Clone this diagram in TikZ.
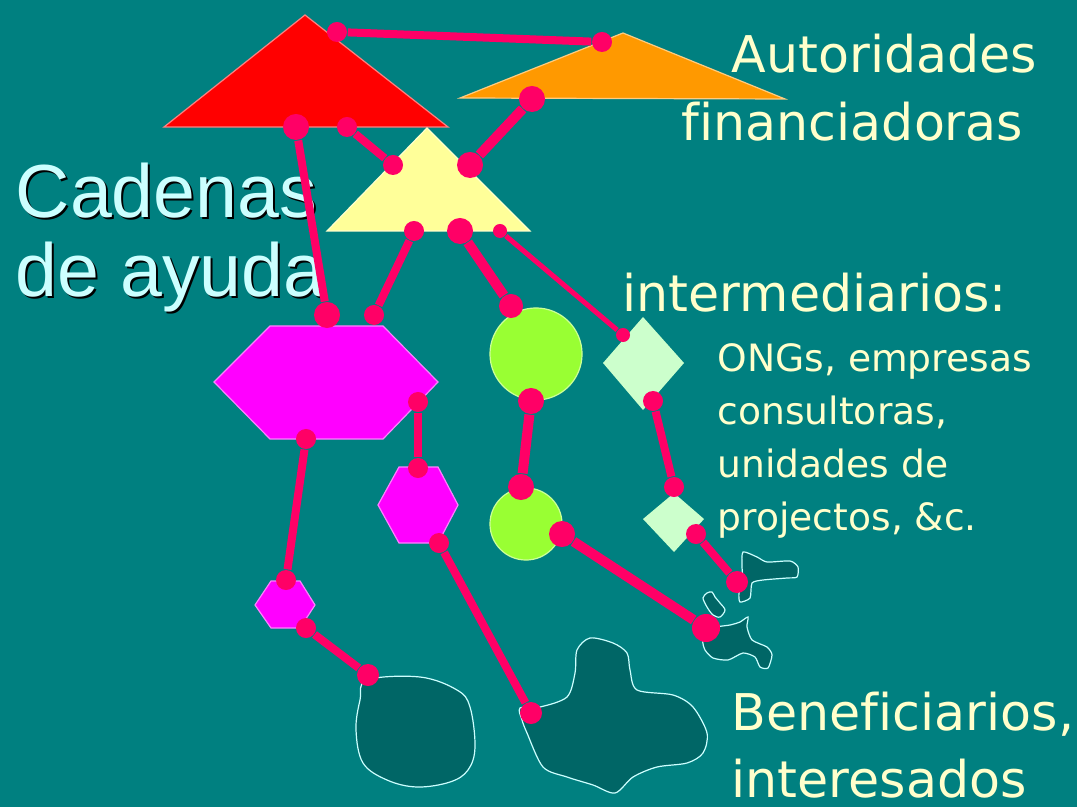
\documentclass[tikz,border=0pt]{standalone}
\usepackage{fontspec}
\usepackage{xcolor}
\newfontfamily\labfont[Ligatures=NoCommon]{DejaVu Sans}
\newfontfamily\cadfont{Liberation Sans}
\definecolor{colorBack}{RGB}{0,128,128}
\definecolor{colorLink}{RGB}{255,0,102}
\definecolor{colorRed}{RGB}{255,0,0}
\definecolor{colorOrange}{RGB}{255,153,0}
\definecolor{colorYellow}{RGB}{255,255,153}
\definecolor{colorMagenta}{RGB}{255,0,255}
\definecolor{colorGreen}{RGB}{153,255,51}
\definecolor{colorMint}{RGB}{204,255,204}
\definecolor{colorIsle}{RGB}{0,102,102}
\definecolor{colorText}{RGB}{255,255,204}
\definecolor{colorTitle}{RGB}{204,255,255}
\tikzset{
  link/.style={draw=colorLink, line width=0.08cm},
  thick link/.style={draw=colorLink, line width=0.1cm},
  thin link/.style={draw=colorLink, line width=0.05cm},
  dot/.style={circle, fill=colorLink, inner sep=0pt, minimum size=#1},
  dot/.default=0.2cm,
  shape edge/.style={draw=#1!50!white, line width=0.012cm},
  isle/.style={fill=colorIsle, draw=colorTitle, line width=0.012cm},
  big label/.style={text=colorText, inner sep=0pt, anchor=base west, align=left,
    font=\labfont\fontsize{14.4}{18.8}\selectfont},
  small label/.style={text=colorText, inner sep=0pt, anchor=base west, align=left,
    font=\labfont\fontsize{10.7}{15}\selectfont},
  title label/.style={inner sep=0pt, anchor=base west, align=left,
    font=\cadfont\fontsize{21.4}{22.5}\selectfont},
}

\begin{document}
\begin{tikzpicture}[x=0.01cm, y=-0.01cm]
\fill[colorBack] (0,0) rectangle (1077,807);
\useasboundingbox (0,0) rectangle (1077,807);
\filldraw[fill=colorRed, shape edge=colorRed] (305,15) -- (448,127) -- (164,127) -- cycle;
\filldraw[fill=colorOrange, shape edge=colorOrange] (623,33) -- (785,99) -- (460,98) -- cycle;
\filldraw[fill=colorYellow, shape edge=colorYellow] (427,128) -- (530,231) -- (327,231) -- cycle;
\filldraw[fill=colorMagenta, shape edge=colorMagenta] (214,382) -- (270,326) -- (383,326) -- (438,382) -- (383,439) -- (270,439) -- cycle;
\filldraw[fill=colorMagenta, shape edge=colorMagenta] (378,505) -- (399,467) -- (438,467) -- (458,505) -- (438,543) -- (399,543) -- cycle;
\filldraw[fill=colorMagenta, shape edge=colorMagenta] (255,605) -- (271,581) -- (300,581) -- (315,605) -- (300,628) -- (271,628) -- cycle;
\filldraw[fill=colorGreen, shape edge=colorGreen] (536,354) circle[radius=0.46cm];
\filldraw[fill=colorGreen, shape edge=colorGreen] (526,524) circle[radius=0.36cm];
\fill[colorMint] (643,317) -- (684,363) -- (643,410) -- (603,363) -- cycle;
\fill[colorMint] (674,493) -- (704,519) -- (674,552) -- (643,519) -- cycle;
\filldraw[isle] plot[smooth cycle, tension=0.6] coordinates {(367,680) (420,677) (457,690) (470,707) (475,747) (468,770) (450,782) (417,787) (387,780) (363,763) (356,730) (360,700)};
\filldraw[isle] plot[smooth cycle, tension=0.5] coordinates {(520,708) (540,707) (567,697) (575,673) (577,650) (590,638) (613,643) (627,653) (630,670) (637,690) (673,695) (693,707) (707,733) (703,753) (687,763) (657,767) (633,777) (615,793) (593,785) (567,777) (543,767) (527,733) (522,720)};
\filldraw[isle] plot[smooth cycle, tension=0.4] coordinates {(743,552) (757,557) (767,562) (790,561) (798,567) (797,577) (787,578) (763,580) (752,583) (750,598) (740,602) (739,593) (743,583) (742,567)};
\filldraw[isle] plot[smooth cycle, tension=0.5] coordinates {(712,592) (715,597) (720,603) (725,610) (720,617) (713,615) (707,607) (703,598) (707,593)};
\filldraw[isle] plot[smooth cycle, tension=0.4] coordinates {(748,617) (747,627) (752,640) (767,647) (772,655) (768,668) (760,667) (755,657) (743,653) (728,660) (713,658) (705,650) (703,640) (713,628) (730,625) (740,622)};

\node[title label, text=black] (cadShadow) at (17,299) {Cadenas\\de ayuda};
\node[title label, text=colorTitle] (cad) at (15,297) {Cadenas\\de ayuda};
\node[big label] (fundA) at (731,73) {Autoridades};
\node[big label] (fundB) at (681,141) {financiadoras};
\node[big label] (inter) at (622,312) {intermediarios:};
\node[small label] (interList) at (717,530) {ONGs, empresas\\consultoras,\\unidades de\\projectos, \&c.};
\node[big label] (benef) at (731,797) {Beneficiarios,\\interesados};

\node[dot] (redTop) at (337,32) {};
\node[dot] (orgTop) at (602,42) {};
\node[dot=0.26cm] (redL) at (296,127) {};
\node[dot] (redR) at (347,127) {};
\node[dot] (ylwL) at (393,165) {};
\node[dot=0.26cm] (ylwR) at (470,165) {};
\node[dot=0.26cm] (orgB) at (532,99) {};
\node[dot] (ylwB1) at (414,231) {};
\node[dot=0.26cm] (ylwB2) at (460,231) {};
\node[dot=0.14cm] (ylwB3) at (500,231) {};
\node[dot=0.26cm] (hexT1) at (327,315) {};
\node[dot] (hexT2) at (374,315) {};
\node[dot] (hexR) at (418,402) {};
\node[dot] (hexB) at (306,439) {};
\node[dot] (hexmT) at (418,468) {};
\node[dot] (hexmB) at (439,543) {};
\node[dot] (hexsT) at (286,580) {};
\node[dot] (hexsB) at (306,628) {};
\node[dot=0.22cm] (isleL) at (368,675) {};
\node[dot=0.22cm] (isleM) at (531,713) {};
\node[dot=0.24cm] (cirT) at (511,306) {};
\node[dot=0.26cm] (cirB) at (531,401) {};
\node[dot=0.26cm] (cirsT) at (521,487) {};
\node[dot=0.26cm] (cirsR) at (562,534) {};
\node[dot=0.28cm] (isleR) at (706,628) {};
\node[dot=0.14cm] (dmdT) at (623,335) {};
\node[dot] (dmdB) at (653,401) {};
\node[dot] (dmdsT) at (674,487) {};
\node[dot] (dmdsR) at (696,534) {};
\node[dot=0.22cm] (isleT) at (737,582) {};

\draw[link] (redTop) -- (orgTop);
\draw[link] (redL) -- (hexT1);
\draw[link] (redR) -- (ylwL);
\draw[thick link] (ylwR) -- (orgB);
\draw[link] (ylwB1) -- (hexT2);
\draw[thick link] (ylwB2) -- (cirT);
\draw[thin link] (ylwB3) -- (dmdT);
\draw[link] (hexR) -- (hexmT);
\draw[link] (hexB) -- (hexsT);
\draw[link] (hexsB) -- (isleL);
\draw[link] (hexmB) -- (isleM);
\draw[thick link] (cirB) -- (cirsT);
\draw[thick link] (cirsR) -- (isleR);
\draw[link] (dmdB) -- (dmdsT);
\draw[link] (dmdsR) -- (isleT);
\end{tikzpicture}
\end{document}
